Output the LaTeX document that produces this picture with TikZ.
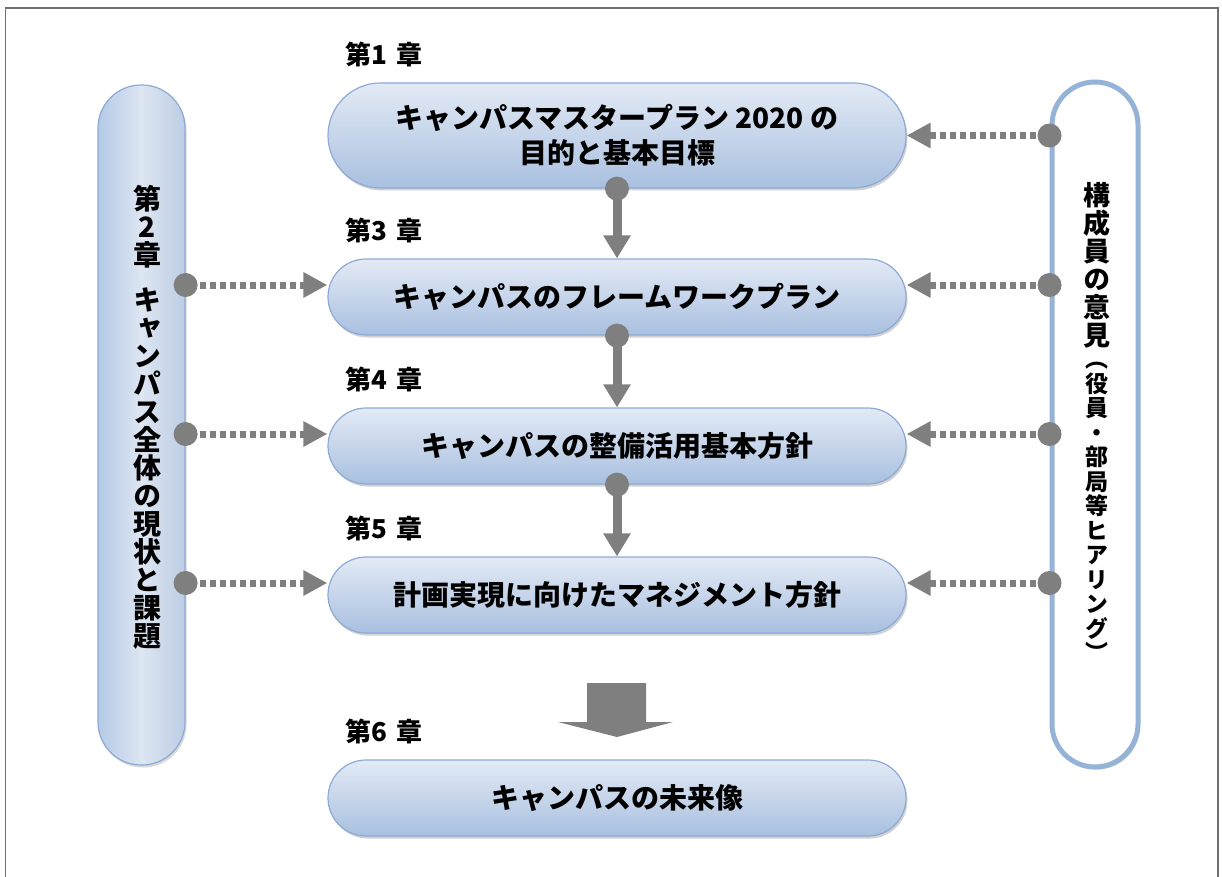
\documentclass[tikz,border=0pt]{standalone}
\usepackage{fontspec}
\setmainfont{Noto Sans CJK JP}
\newfontfamily\vjp[RawFeature=+vert]{Noto Sans CJK JP}
\usetikzlibrary{arrows.meta,shadows,shapes.misc}
\definecolor{gr}{HTML}{7F7F7F}
\definecolor{boxedge}{HTML}{8DAAD6}
\definecolor{boxtop}{HTML}{E3EAF5}
\definecolor{boxbot}{HTML}{A9C0E0}
\definecolor{pilledge}{HTML}{95B3D7}
\definecolor{framec}{HTML}{707070}
\definecolor{lpa}{HTML}{B5CAE6}
\definecolor{lpb}{HTML}{BCCDE4}
\definecolor{lpc}{HTML}{DDE6F2}
\begin{document}
\begin{tikzpicture}[x=1pt,y=-1pt,
  box/.style={rounded rectangle, draw=boxedge, line width=1.2pt, top color=boxtop, bottom color=boxbot,
    minimum width=578pt, minimum height=76pt, inner sep=0pt,
    font=\bfseries\fontsize{28}{35}\selectfont, align=center,
    drop shadow={shadow xshift=1.5pt, shadow yshift=-2.5pt, opacity=0.3, fill=black!60}},
  chap/.style={font=\bfseries\fontsize{26}{28}\selectfont, anchor=west, inner sep=0pt},
  lpillst/.style={rectangle, rounded corners=43pt, draw=boxedge, line width=1.2pt,
    left color=lpa, right color=lpb, middle color=lpc,
    minimum width=87pt, minimum height=680pt, inner sep=0pt,
    drop shadow={shadow xshift=1.5pt, shadow yshift=-2.5pt, opacity=0.25, fill=black!60}},
  rpillst/.style={rectangle, rounded corners=43pt, draw=pilledge, line width=5pt, fill=white,
    minimum width=86pt, minimum height=685pt, inner sep=0pt,
    drop shadow={shadow xshift=2pt, shadow yshift=-2.5pt, opacity=0.3, fill=black!60}},
  vtext/.style={align=center, inner sep=0pt, anchor=north},
  dotconn/.style={draw=gr, line width=7pt, dash pattern=on 6pt off 4pt, shorten <=14pt,
    -{Triangle[width=24pt,length=24pt]}},
  solidconn/.style={draw=gr, line width=9pt, -{Triangle[width=26pt,length=23pt]}},
  dotc/.style={fill=gr}
]
\useasboundingbox (0,0) rectangle (1222,877);
\draw[framec, line width=1.5pt] (5.5,877) -- (5.5,8) -- (1218,8) -- (1218,877);

% pills
\node[lpillst] (lp) at (141.5,425) {};
\node[rpillst] (rp) at (1095,424.5) {};
\node[vtext, font=\vjp\bfseries\fontsize{28}{28}\selectfont] (lt) at (147,185)
  {第\\2\\章\\[17pt]キ\\ャ\\ン\\パ\\ス\\全\\体\\の\\現\\状\\と\\課\\題};
\node[vtext, font=\vjp\bfseries\fontsize{27}{28}\selectfont] (rt1) at (1097,182)
  {構\\成\\員\\の\\意\\見};
\node[vtext, font=\vjp\bfseries\fontsize{23}{24.5}\selectfont] (rt2) at (1097,362)
  {（\\役\\員\\・\\部\\局\\等\\ヒ\\ア\\リ\\ン\\グ\\）};

% boxes
\node[box, minimum height=105pt] (b1) at (617,135.5) {キャンパスマスタープラン 2020 の\\目的と基本目標};
\node[box] (b3) at (617,297) {キャンパスのフレームワークプラン};
\node[box] (b4) at (617,446) {キャンパスの整備活用基本方針};
\node[box] (b5) at (617,595) {計画実現に向けたマネジメント方針};
\node[box] (b6) at (617,798) {キャンパスの未来像};

% chapter labels
\node[chap] (c1) at (345,54) {第1\hspace{0.35em}章};
\node[chap] (c3) at (345,230) {第3\hspace{0.35em}章};
\node[chap] (c4) at (345,379) {第4\hspace{0.35em}章};
\node[chap] (c5) at (345,528) {第5\hspace{0.35em}章};
\node[chap] (c6) at (345,731) {第6\hspace{0.35em}章};

% vertical solid connectors
\draw[solidconn] (b1.south) -- (b3.north);
\draw[solidconn] (b3.south) -- (b4.north);
\draw[solidconn] (b4.south) -- (b5.north);
\foreach \b in {b1,b3,b4} \fill[dotc] (\b.south) circle (12pt);

% dotted connectors left
\foreach \b in {b3,b4,b5} {
  \coordinate (e\b) at ([yshift=12pt]\b.west);
  \coordinate (l\b) at (lp.east |- e\b);
  \draw[dotconn] (l\b) -- (e\b);
  \fill[dotc] (l\b) circle (12pt);
}
% dotted connectors right
\coordinate (fb1) at (b1.east);
\foreach \b in {b3,b4,b5} \coordinate (f\b) at ([yshift=12pt]\b.east);
\foreach \b in {b1,b3,b4,b5} {
  \coordinate (r\b) at (rp.west |- f\b);
  \draw[dotconn] (r\b) -- (f\b);
  \fill[dotc] (r\b) circle (12pt);
}

% big block arrow
\fill[gr] (587,683) -- (646,683) -- (646,722) -- (673,722) -- (617,737) -- (558,722) -- (587,722) -- cycle;
\end{tikzpicture}
\end{document}
